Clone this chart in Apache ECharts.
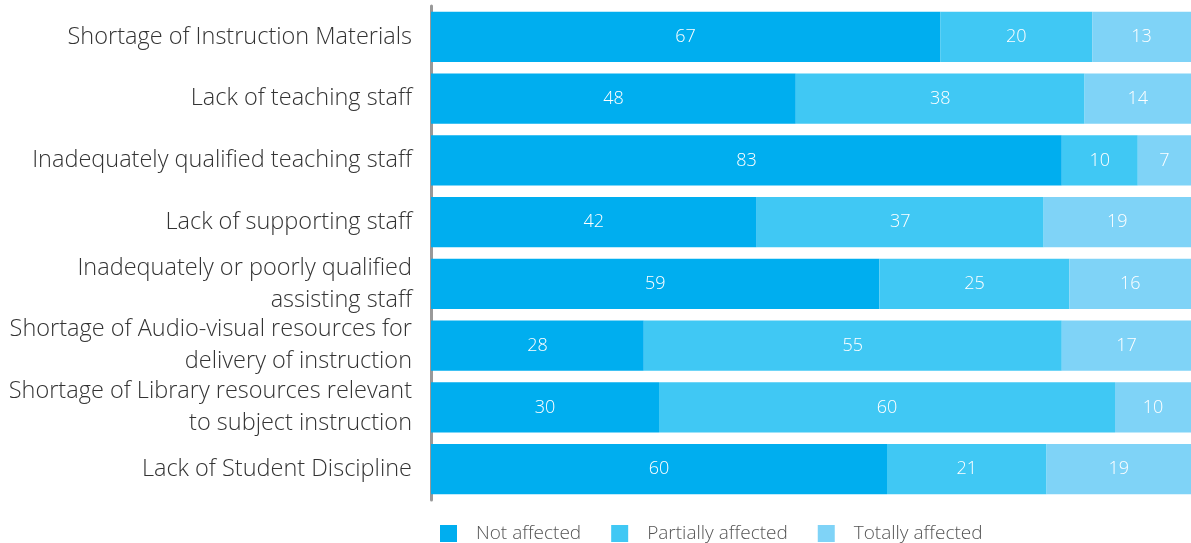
<!DOCTYPE html>
<html>
<head>
<meta charset="utf-8">
<script src="https://cdn.jsdelivr.net/npm/echarts@6/dist/echarts.min.js"></script>
<style>
    html, body { margin: 0; padding: 0; background: #fff; }
    #chart { width: 1191px; height: 543px; }
</style>
</head>
<body>
<div id="chart"></div>
<script>
const categories = [
    'Shortage of Instruction Materials',
    'Lack of teaching staff',
    'Inadequately qualified teaching staff',
    'Lack of supporting staff',
    'Inadequately or poorly qualified\nassisting staff',
    'Shortage of Audio-visual resources for\ndelivery of instruction',
    'Shortage of Library resources relevant\nto subject instruction',
    'Lack of Student Discipline'
]
const notAffected = [67, 48, 83, 42, 59, 28, 30, 60]
const partiallyAffected = [20, 38, 10, 37, 25, 55, 60, 21]
const totallyAffected = [13, 14, 7, 19, 16, 17, 10, 19]

// bars are drawn as share of each row's total, labels keep the printed value
const rowTotal = categories.map((c, i) => notAffected[i] + partiallyAffected[i] + totallyAffected[i])
const toShare = arr => arr.map((v, i) => ({ value: v / rowTotal[i] * 100, raw: v }))

const labelStyle = {
    show: true,
    position: 'inside',
    color: '#fff',
    fontSize: 18,
    fontWeight: 300,
    fontFamily: 'Open Sans',
    formatter: p => p.data.raw
}

let mycharts = echarts.init(document.getElementById('chart'))
mycharts.setOption({
    animation: false,
    color: ['#00AEEF', '#40C8F4', '#7FD3F7'],
    grid: {
        top: 6,
        bottom: 43,
        left: 431,
        right: 0
    },
    legend: {
        bottom: -5,
        left: 435,
        itemWidth: 17,
        itemHeight: 17,
        itemGap: 30,
        icon: 'rect',
        textStyle: {
            color: '#555',
            fontSize: 19,
            fontWeight: 300,
            fontFamily: 'Open Sans',
            padding: [0, 0, 0, 14]
        }
    },
    xAxis: {
        type: 'value',
        min: 0,
        max: 100,
        show: false
    },
    yAxis: {
        type: 'category',
        inverse: true,
        data: categories,
        axisLine: {
            show: true,
            lineStyle: { color: '#999', width: 3 }
        },
        axisTick: { show: false },
        axisLabel: {
            color: '#333',
            fontSize: 23.5,
            fontWeight: 300,
            fontFamily: 'Open Sans',
            lineHeight: 32,
            margin: 19,
            align: 'right'
        }
    },
    series: [
        {
            name: 'Not affected',
            type: 'bar',
            stack: 'all',
            barCategoryGap: '19%',
            label: labelStyle,
            data: toShare(notAffected)
        },
        {
            name: 'Partially affected',
            type: 'bar',
            stack: 'all',
            label: labelStyle,
            data: toShare(partiallyAffected)
        },
        {
            name: 'Totally affected',
            type: 'bar',
            stack: 'all',
            label: labelStyle,
            data: toShare(totallyAffected)
        }
    ]
})
</script>
</body>
</html>
